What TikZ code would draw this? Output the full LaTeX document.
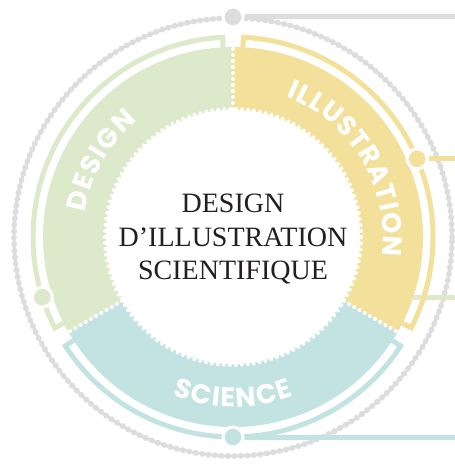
\documentclass[tikz,border=0pt]{standalone}
\usepackage{fontspec}
\setmainfont{Liberation Serif}
\newfontfamily\bandfont{Poppins}
\usepackage{tikz}
\usetikzlibrary{positioning, calc, decorations.text}
\definecolor{dsgreen}{HTML}{DCE9CB}
\definecolor{illyellow}{HTML}{F3E19B}
\definecolor{scicyan}{HTML}{C3E3E2}
\definecolor{ringgrey}{HTML}{DDDDDD}
\definecolor{titleink}{HTML}{231F20}
\tikzset{
  bulletdot/.style={circle, draw=white, line width=3pt, inner sep=0pt, minimum size=20pt},
  leader/.style={line width=5pt},
  rimline/.style={line width=5pt, line join=miter},
  whitedots/.style={white, line width=4pt, line cap=round, dash pattern=on 0pt off 6pt},
  bandlabel/.style={decorate, decoration={text along path, text align=center, text color=white,
      text={|\bandfont\bfseries\fontsize{27}{32}\selectfont|#1}}}
}

\begin{document}
\begin{tikzpicture}[x=1pt,y=1pt]
      \useasboundingbox (-233,-229) rectangle (222,237);
      % grey serrated ring
      \draw[ringgrey, line width=3pt] (0,0) circle[radius=219];
      \draw[ringgrey, line width=6pt, line cap=round, dash pattern=on 0pt off 6.5pt] (0,0) circle[radius=219];
      %
      \fill[dsgreen] (0,0) -- (90:190) arc[start angle=90, end angle=210, radius=190] -- cycle;
      \fill[illyellow] (0,0) -- (-30:190) arc[start angle=-30, end angle=90, radius=190] -- cycle;
      \fill[scicyan] (0,0) -- (210:190) arc[start angle=210, end angle=330, radius=190] -- cycle;
      %
      \fill[white] (0,0) circle[radius=127];
      \draw[whitedots] (0,0) circle[radius=128];
      \draw[whitedots] (90:128) -- (90:190);
      \draw[whitedots] (210:128) -- (210:190);
      \draw[whitedots] (330:128) -- (330:190);
      %
      \coordinate (greenstart) at (180.2,-60.1);
      \coordinate (greenend) at (222,-60.1);
      \draw[leader, dsgreen] (greenstart) -- (greenend);
      %
      \draw[rimline, dsgreen] (93:190) -- (93:200) arc[start angle=93, end angle=207, radius=200] -- (207:190);
      \draw[rimline, illyellow] (-27:190) -- (-27:200) arc[start angle=-27, end angle=87, radius=200] -- (87:190);
      \draw[rimline, scicyan] (213:190) -- (213:200) arc[start angle=213, end angle=327, radius=200] -- (327:190);
      %
      \node[bulletdot, fill=ringgrey] (greydot) at (90:220) {};
      \node[bulletdot, fill=dsgreen] (greendot) at (197.5:200) {};
      \node[bulletdot, fill=illyellow] (yellowdot) at (23:200) {};
      \node[bulletdot, fill=scicyan] (cyandot) at (270:200) {};
      %
      \coordinate (greyend) at (222,220);
      \coordinate (yellowend) at ($(222,0)!(yellowdot)!(222,1)$);
      \coordinate (cyanend) at (222,-200);
      \draw[leader, ringgrey] (greydot) -- (greyend);
      \draw[leader, illyellow] (yellowdot) -- (yellowend);
      \draw[leader, scicyan] (cyandot) -- (cyanend);
      %
      \path[bandlabel={D{\kern1.5pt}E{\kern1.5pt}S{\kern1.5pt}I{\kern1.5pt}G{\kern1.5pt}N}]
        (178:150) arc[start angle=178, end angle=122, radius=150];
      \path[bandlabel={I{\kern1pt}L{\kern1pt}L{\kern1pt}U{\kern1pt}S{\kern1pt}T{\kern1pt}R{\kern1pt}A{\kern1pt}T{\kern1pt}I{\kern1pt}O{\kern1pt}N}]
        (85:150) arc[start angle=85, end angle=-23, radius=150];
      \path[bandlabel={S{\kern1.5pt}C{\kern1.5pt}I{\kern1.5pt}E{\kern1.5pt}N{\kern1.5pt}C{\kern1.5pt}E}]
        (235:170) arc[start angle=235, end angle=305, radius=170];
      %
      \node[font=\fontsize{28}{33.5}\selectfont, align=center, text=titleink] (title) at (0,-2)
        {DESIGN\\D’ILLUSTRATION\\SCIENTIFIQUE};
\end{tikzpicture}
\end{document}
